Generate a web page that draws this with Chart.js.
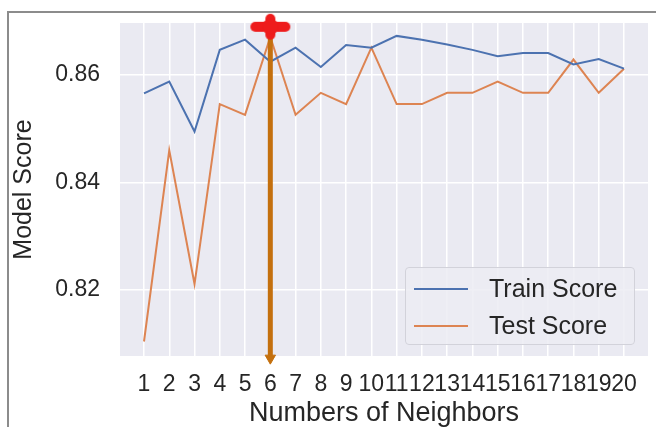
<!DOCTYPE html>
<html>
<head>
<meta charset="utf-8">
<script src="https://cdn.jsdelivr.net/npm/chart.js@4.4.1/dist/chart.umd.min.js"></script>
<style>
  body { margin: 0; background: #fff; }
  #wrap { position: relative; width: 656px; height: 427px; overflow: hidden; }
  #frame {
    position: absolute; left: 7px; top: 11px; width: 700px; height: 500px;
    border-top: 2px solid #8c8c8c; border-left: 2px solid #8c8c8c;
  }
  #chart { position: absolute; left: 0; top: 0; }
  #legend {
    position: absolute; left: 405px; top: 267px; width: 230px; height: 78px;
    box-sizing: border-box; padding: 2px 0 0 8px;
    border: 1px solid #d2d2da; border-radius: 4px; background: rgba(236,236,243,0.85);
    font-family: 'Liberation Sans', Arial, sans-serif; font-size: 25px; color: #262626;
  }
  .legend-item { display: flex; align-items: center; height: 37px; }
  .legend-line { width: 54px; height: 2px; margin-right: 21px; }
</style>
</head>
<body>
<div id="wrap">
  <div id="frame"></div>
  <canvas id="chart" width="656" height="427"></canvas>
  <div id="legend"></div>
</div>
<script>
const neighbors  = [1, 2, 3, 4, 5, 6, 7, 8, 9, 10, 11, 12, 13, 14, 15, 16, 17, 18, 19, 20];
const trainScore = [0.8566, 0.8588, 0.8495, 0.8647, 0.8666, 0.8625, 0.8651, 0.8615, 0.8656, 0.8651,
                    0.8673, 0.8666, 0.8657, 0.8647, 0.8635, 0.8641, 0.8641, 0.8620, 0.8630, 0.8612];
const testScore  = [0.8104, 0.8460, 0.8211, 0.8546, 0.8526, 0.8671, 0.8526, 0.8567, 0.8546, 0.8651,
                    0.8546, 0.8546, 0.8567, 0.8567, 0.8588, 0.8567, 0.8567, 0.8629, 0.8567, 0.8612];
const yTicks = [0.82, 0.84, 0.86];
const bestK  = 6;
const bestScore = 0.8690;
const Y_MIN = 0.8077;
const Y_MAX = 0.8697;

const TEXT = '#262626';
const FONT = "'Liberation Sans', Arial, sans-serif";

// red star marker for the best k
function makeStar() {
  const c = document.createElement('canvas');
  c.width = 44; c.height = 30;
  const g = c.getContext('2d');
  g.fillStyle = '#ee1c1c';
  g.beginPath(); g.roundRect(2, 10, 40, 10, 5); g.fill();
  g.beginPath(); g.roundRect(17, 2, 10, 26, 5); g.fill();
  g.beginPath(); g.arc(22, 15, 8, 0, Math.PI * 2); g.fill();
  return c;
}

const plotBg = {
  id: 'plotBg',
  beforeDraw(chart) {
    const { ctx, chartArea: a } = chart;
    ctx.save();
    ctx.fillStyle = '#eaeaf2';
    ctx.fillRect(a.left, a.top, a.width, a.height);
    ctx.restore();
  },
};

// fixed axis boxes, no extra label padding pushed into the layout
function fixBox(size) {
  return (s) => {
    if (s.isHorizontal()) s.height = size; else s.width = size;
    s.paddingTop = s.paddingBottom = s.paddingLeft = s.paddingRight = 0;
  };
}

const chart = new Chart(document.getElementById('chart'), {
  type: 'line',
  data: {
    datasets: [
      {
        data: [{ x: bestK, y: bestScore }],
        showLine: false,
        pointStyle: makeStar(),
        pointRadius: 15,
        clip: false,
        order: 0,
      },
      {
        data: [{ x: bestK, y: Y_MIN - 0.0004 }],
        showLine: false,
        pointStyle: 'triangle',
        rotation: 180,
        pointRadius: 6,
        backgroundColor: '#c4700e',
        borderColor: '#c4700e',
        borderWidth: 1,
        clip: false,
        order: 1,
      },
      {
        data: [{ x: bestK, y: bestScore }, { x: bestK, y: Y_MIN }],
        borderColor: '#c4700e',
        borderWidth: 5,
        pointRadius: 0,
        clip: false,
        order: 1,
      },
      {
        label: 'Train Score',
        data: neighbors.map((k, i) => ({ x: k, y: trainScore[i] })),
        borderColor: '#4c72b0',
        borderWidth: 2,
        pointRadius: 0,
        tension: 0,
        order: 2,
      },
      {
        label: 'Test Score',
        data: neighbors.map((k, i) => ({ x: k, y: testScore[i] })),
        borderColor: '#dd8452',
        borderWidth: 2,
        pointRadius: 0,
        tension: 0,
        order: 3,
      },
    ],
  },
  options: {
    responsive: false,
    animation: false,
    layout: { autoPadding: false, padding: { top: 23, right: 8, left: 0, bottom: 0 } },
    plugins: { legend: { display: false }, tooltip: { enabled: false } },
    scales: {
      x: {
        type: 'linear',
        min: 0.05,
        max: 20.95,
        afterBuildTicks: (s) => { s.ticks = neighbors.map((v) => ({ value: v })); },
        afterFit: fixBox(71),
        border: { display: false },
        grid: { color: '#ffffff', lineWidth: 1.5, drawTicks: false },
        ticks: {
          autoSkip: false, maxRotation: 0, padding: 15,
          color: TEXT, font: { family: FONT, size: 23 },
        },
        title: {
          display: true, text: 'Numbers of Neighbors', color: TEXT,
          font: { family: FONT, size: 27, lineHeight: 1 }, padding: { top: 0, bottom: 0 },
        },
      },
      y: {
        min: Y_MIN,
        max: Y_MAX,
        afterBuildTicks: (s) => { s.ticks = yTicks.map((v) => ({ value: v })); },
        afterFit: fixBox(120),
        border: { display: false },
        grid: { color: '#ffffff', lineWidth: 1.5, drawTicks: false },
        ticks: {
          padding: 20, color: TEXT, font: { family: FONT, size: 23 },
          callback: (v) => v.toFixed(2),
        },
        title: {
          display: true, text: 'Model Score', color: TEXT,
          font: { family: FONT, size: 25, lineHeight: 1 }, padding: { top: 12, bottom: 0 },
        },
      },
    },
  },
  plugins: [plotBg],
});

document.getElementById('legend').innerHTML = chart.data.datasets
  .filter((d) => d.label)
  .map((d) => `<div class="legend-item">
      <span class="legend-line" style="background:${d.borderColor}"></span>${d.label}
    </div>`)
  .join('');
</script>
</body>
</html>
